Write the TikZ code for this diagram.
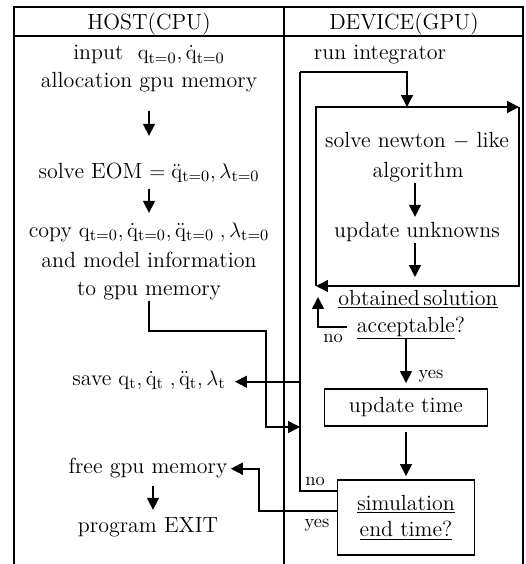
\documentclass[tikz,border=0pt]{standalone}
\usetikzlibrary{arrows.meta,calc}
\newcommand{\vq}{\mathrm{q}}
\newcommand{\tz}{{\mathrm{t}=0}}
\begin{document}
\begin{tikzpicture}[x=0.02cm,y=-0.02cm,
  txt/.style={inner sep=0pt, anchor=base, text height=9pt, text depth=3pt,
              font=\fontsize{12.5}{15}\selectfont},
  lbl/.style={inner sep=0pt, anchor=base, font=\fontsize{10.5}{12}\selectfont},
  stepbox/.style={draw, line width=1.1pt, inner sep=2pt, align=center,
              font=\fontsize{12.5}{15}\selectfont},
  frame/.style={line width=1.2pt},
  conn/.style={line width=0.9pt},
  arr/.style={conn, -{Triangle[length=6.8pt,width=6.8pt]}}]
\useasboundingbox (0,0) rectangle (525,564);
\clip (0,0) rectangle (525,564);

% table frame: two columns with a header row
\draw[frame] (14,580) -- (14,7) -- (523,7) -- (523,580);
\draw[frame] (14,36) -- (523,36);
\draw[frame] (284,7) -- (284,580);
\node[txt] (host) at (149,30) {HOST(CPU)};
\node[txt] (dev)  at (404,30) {DEVICE(GPU)};

% host column
\node[txt] (in1)   at (149,60)  {input\ \ $\vq_\tz,\dot{\vq}_\tz$};
\node[txt] (alloc) at (149,88)  {allocation gpu memory};
\node[txt] (eom)   at (149,178) {solve EOM $=\ddot{\vq}_\tz,\lambda_\tz$};
\node[txt] (copy1) at (149,237) {copy $\vq_\tz,\dot{\vq}_\tz,\ddot{\vq}_\tz\;,\lambda_\tz$};
\node[txt] (copy2) at (149,267) {and model information};
\node[txt] (copy3) at (149,295) {to gpu memory};
\node[txt] (save)  at (149,385) {save $\vq_\mathrm{t},\dot{\vq}_\mathrm{t}\;,\ddot{\vq}_\mathrm{t},\lambda_\mathrm{t}$};
\node[txt] (free)  at (148,473) {free gpu memory};
\node[txt] (exit)  at (148,532) {program EXIT};

% device column
\node[txt] (run)     at (380,60)  {run integrator};
\node[txt] (newton1) at (417,148) {solve newton $-$ like};
\node[txt] (newton2) at (418,177) {algorithm};
\node[txt] (unk)     at (417,237) {update unknowns};
\node[txt] (obt)     at (418,305) {\underline{obtained\,solution}};
\node[txt] (acc)     at (411,332) {\underline{acceptable}?};
\node[stepbox, minimum width=3.26cm, minimum height=0.74cm] (upd) at (406,407.5) {update time};
\node[stepbox, minimum width=2.74cm, minimum height=1.5cm] (sim) at (406,517.5)
  {\underline{simulation}\\\underline{end time?}};

\node[lbl] (no1)  at (333,342) {no};
\node[lbl] (yes1) at (431,378) {yes};
\node[lbl] (no2)  at (315,485) {no};
\node[lbl] (yes2) at (317,527) {yes};

% corners of the Newton iteration loop and loop entry points
\coordinate (lpTL) at (316,107);
\coordinate (lpTR) at (519,107);
\coordinate (lpBR) at (519,286);
\coordinate (lpBL) at (316,286);
\coordinate (entry) at (407,107);
\coordinate (busTop) at (300,72);
\coordinate (noTip) at (318,297);

% host flow
\draw[arr] ($(alloc.south)+(0,17)$) -- ($(eom.north)+(0,-26)$);
\draw[arr] ($(eom.south)+(0,5)$) -- ($(copy1.north)+(0,-8)$);
\draw[arr] ($(free.south)+(5,7)$) -- ($(exit.north)+(5,-6)$);
\draw[arr] (copy3.south) |- (266,331) |- (300,427);

% Newton loop
\draw[arr] (lpBL) -- (lpTL) -- (lpTR);
\draw[arr] (lpTR) -- (lpBR) -- (lpBL);
\draw[arr] (newton2.south -| 415,0) -- ($(unk.north -| 415,0)+(0,-4)$);
\draw[arr] (unk.south -| 415,0) -- ($(lpBL -| 415,0)+(0,-9)$);
\draw[arr] ($(acc.west)+(-10,0)$) -| (noTip);
\draw[arr] (acc.south -| upd.north) -- ($(upd.north)+(0,-5)$);
\draw[arr] ($(upd.south)+(0,5)$) -- ($(sim.north)+(0,-3)$);

% time loop back to the integrator, with results copied to the host
\draw[conn] ($(sim.north west)+(0,12)$) -| (busTop);
\draw[arr] (busTop) -| (entry);
\draw[arr] ($(save.east -| busTop)+(0,2)$) -- ($(save.east)+(9,2)$);
\draw[arr] ($(sim.west)+(0,-6.5)$) -- (259,511) |- ($(free.east)+(3,1)$);
\end{tikzpicture}
\end{document}
